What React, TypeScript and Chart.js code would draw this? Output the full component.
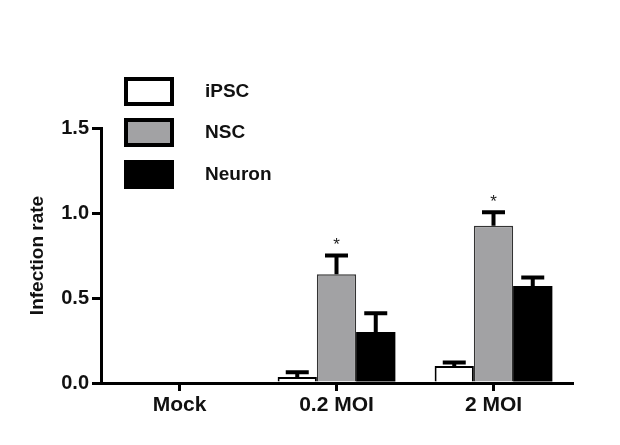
import React, { useEffect, useRef } from "react";
import { Chart, registerables } from "chart.js";

Chart.register(...registerables);

const categories = ["Mock", "0.2 MOI", "2 MOI"];
const seriesNames = ["iPSC", "NSC", "Neuron"];
const ipscValues = [0, 0.035, 0.1];
const ipscErrors = [0, 0.028, 0.02];
const nscValues = [0, 0.64, 0.925];
const nscErrors = [0, 0.11, 0.08];
const neuronValues = [0, 0.3, 0.57];
const neuronErrors = [0, 0.11, 0.05];
const nscMarks = ["", "*", "*"];
const yTicks = [0, 0.5, 1.0, 1.5];

const fillColors = ["#ffffff", "#a2a2a4", "#000000"];
const FONT = "'Liberation Sans', Arial, sans-serif";

const errorBarPlugin = {
  id: "errorBars",
  afterDatasetsDraw(chart: any) {
    const ctx = chart.ctx;
    const y = chart.scales.y;
    chart.data.datasets.forEach((ds: any, di: number) => {
      const meta = chart.getDatasetMeta(di);
      meta.data.forEach((bar: any, i: number) => {
        const err = ds.errors ? ds.errors[i] : 0;
        const v = ds.data[i];
        if (err > 0) {
          const top = y.getPixelForValue(v + err);
          const base = y.getPixelForValue(v);
          ctx.save();
          ctx.strokeStyle = "#000";
          ctx.lineWidth = 4;
          ctx.beginPath();
          ctx.moveTo(bar.x, base);
          ctx.lineTo(bar.x, top);
          ctx.moveTo(bar.x - 11.5, top);
          ctx.lineTo(bar.x + 11.5, top);
          ctx.stroke();
          ctx.restore();
        }
        const mark = ds.marks ? ds.marks[i] : "";
        if (mark) {
          const top = y.getPixelForValue(v + err);
          ctx.save();
          ctx.fillStyle = "#222";
          ctx.font = `17px ${FONT}`;
          ctx.textAlign = "center";
          ctx.textBaseline = "middle";
          ctx.fillText(mark, bar.x, top - 10);
          ctx.restore();
        }
      });
    });
  },
};

const legendPlugin = {
  id: "customLegend",
  afterDraw(chart: any) {
    const ctx = chart.ctx;
    const boxTops = [77, 118, 160];
    chart.data.datasets.forEach((ds: any, i: number) => {
      const x = 124;
      const yTop = boxTops[i];
      const w = 50;
      const h = 29;
      ctx.save();
      ctx.fillStyle = "#000";
      ctx.fillRect(x, yTop, w, h);
      if (i < 2) {
        ctx.fillStyle = fillColors[i];
        ctx.fillRect(x + 4, yTop + 4, w - 8, h - 8);
      }
      ctx.fillStyle = "#111";
      ctx.font = `bold 19px ${FONT}`;
      ctx.textAlign = "left";
      ctx.textBaseline = "middle";
      ctx.fillText(ds.label, 205, yTop + h / 2);
      ctx.restore();
    });
  },
};

export default function App() {
  const ref = useRef<HTMLCanvasElement>(null);
  useEffect(() => {
    document.body.style.margin = "0";
    const chart = new Chart(ref.current!, {
      type: "bar",
      data: {
        labels: categories,
        datasets: [
          {
            label: seriesNames[0],
            data: ipscValues,
            errors: ipscErrors,
            backgroundColor: fillColors[0],
            borderColor: "#000",
            borderWidth: 2,
          } as any,
          {
            label: seriesNames[1],
            data: nscValues,
            errors: nscErrors,
            marks: nscMarks,
            backgroundColor: fillColors[1],
            borderColor: "#333",
            borderWidth: 1.5,
          } as any,
          {
            label: seriesNames[2],
            data: neuronValues,
            errors: neuronErrors,
            backgroundColor: fillColors[2],
            borderColor: "#000",
            borderWidth: 0,
          } as any,
        ],
      },
      options: {
        animation: false,
        responsive: false,
        devicePixelRatio: 1,
        layout: { padding: { top: 128, right: 48, left: 0, bottom: 0 } },
        datasets: { bar: { categoryPercentage: 0.75, barPercentage: 1 } },
        plugins: { legend: { display: false }, tooltip: { enabled: false } },
        scales: {
          x: {
            grid: {
              offset: false,
              drawOnChartArea: false,
              drawTicks: true,
              tickLength: 8,
              lineWidth: 3,
              color: "#000",
            },
            border: { display: true, width: 3, color: "#000" },
            ticks: {
              color: "#111",
              font: { family: FONT, size: 21, weight: "bold" },
              padding: 2,
            },
            afterFit(scale: any) {
              scale.height = 62;
            },
          },
          y: {
            min: 0,
            max: 1.5,
            afterBuildTicks(scale: any) {
              scale.ticks = yTicks.map((v) => ({ value: v }));
            },
            grid: {
              drawOnChartArea: false,
              drawTicks: true,
              tickLength: 9,
              lineWidth: 3,
              color: "#000",
            },
            border: { display: true, width: 3, color: "#000" },
            ticks: {
              color: "#111",
              font: { family: FONT, size: 20, weight: "bold" },
              padding: 3,
              callback: (v: any) => Number(v).toFixed(1),
            },
            title: {
              display: true,
              text: "Infection rate",
              color: "#111",
              font: { family: FONT, size: 19, weight: "bold" },
              padding: { top: 26, bottom: 0 },
            },
            afterFit(scale: any) {
              scale.width = 101;
            },
          },
        },
      },
      plugins: [errorBarPlugin, legendPlugin],
    } as any);
    return () => chart.destroy();
  }, []);
  return (
    <div style={{ position: "fixed", left: 0, top: 0, width: 620, height: 445, background: "#fff" }}>
      <canvas ref={ref} width={620} height={445} style={{ width: 620, height: 445 }} />
    </div>
  );
}
